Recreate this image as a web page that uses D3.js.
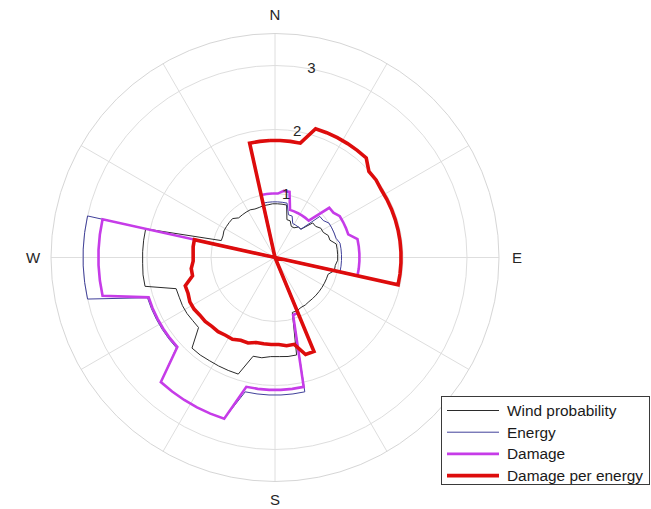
<!DOCTYPE html>
<html>
<head>
<meta charset="utf-8">
<script src="https://cdn.jsdelivr.net/npm/d3@7"></script>
<style>
  body { margin: 0; background: #fff; }
  svg { display: block; font-family: "Liberation Sans", Arial, sans-serif; }
</style>
</head>
<body>
<svg id="chart" width="651" height="509"></svg>
<script>
// Direction bins (degrees clockwise from north), 10-degree resolution
const directions = d3.range(0, 360, 10);

// Values per direction bin, in the order of `directions`
const windProbability = [
  0.84, 0.84, 0.62, 0.55, 0.60, 0.80, 0.85, 0.90, 0.98, 0.98, 0.95, 0.87,
  0.87, 0.87, 0.87, 0.88, 0.90, 1.56, 1.55, 1.58, 1.91, 1.91, 1.92, 1.62,
  1.63, 1.62, 2.08, 2.07, 2.07, 0.88, 0.90, 0.90, 0.84, 0.84, 0.82, 0.83
];
const energy = [
  0.87, 0.87, 0.70, 0.60, 0.60, 0.95, 1.00, 1.00, 1.04, 1.04, 1.04, 0,
  0, 0, 0, 0, 0.95, 2.15, 2.15, 2.15, 2.64, 2.64, 2.64, 2.09,
  2.09, 2.09, 3.00, 3.00, 3.00, 0, 0, 0, 0, 0, 0, 0.87
];
const damage = [
  1.00, 1.05, 0.78, 0.78, 0.78, 1.15, 1.20, 1.20, 1.32, 1.32, 1.32, 0,
  0, 0, 0, 0, 0.94, 2.07, 2.07, 2.07, 2.64, 2.64, 2.64, 2.07,
  2.07, 2.07, 2.76, 2.76, 2.76, 0, 0, 0, 0, 0, 0, 1.00
];
const damagePerEnergy = [
  1.83, 1.83, 2.11, 2.11, 2.11, 1.99, 1.97, 1.97, 1.97, 1.97, 1.97, 0,
  0, 0, 0, 0, 1.59, 1.39, 1.36, 1.36, 1.40, 1.44, 1.46, 1.48,
  1.50, 1.47, 1.32, 1.28, 1.29, 0, 0, 0, 0, 0, 0, 1.83
];

const radialTicks = [1, 2, 3];
const compassAngles = [0, 90, 180, 270];
const compassNames = ["N", "E", "S", "W"];
const seriesNames = ["Wind probability", "Energy", "Damage", "Damage per energy"];
const seriesValues = [windProbability, energy, damage, damagePerEnergy];
const seriesColors = ["#2b2b2b", "#40409a", "#c63ce8", "#dd0c0c"];
const seriesWidths = [1, 1, 2.6, 3.6];

const svg = d3.select("#chart");
const cx = 275, cy = 257.5;
const rMax = 3.5;

const r = d3.scaleLinear().domain([0, rMax]).range([0, 224]);
const ang = d3.scaleLinear().domain([0, 360]).range([0, 2 * Math.PI]);

const g = svg.append("g").attr("transform", `translate(${cx},${cy})`);

// Grid: spokes every 30 degrees and rings at the radial ticks
const grid = g.append("g").attr("fill", "none").attr("stroke", "#dedede").attr("stroke-width", 1);
d3.range(0, 360, 30).forEach(a => {
  const t = ang(a);
  grid.append("line")
    .attr("x1", 0).attr("y1", 0)
    .attr("x2", r(rMax) * Math.sin(t)).attr("y2", -r(rMax) * Math.cos(t));
});
radialTicks.forEach(v => grid.append("circle").attr("r", r(v)));
grid.append("circle").attr("r", r(rMax)).attr("stroke", "#d6d6d6");

// Each bin is a 5-degree plateau; neighbouring plateaus are joined by straight segments
function outline(values) {
  const pts = [];
  directions.forEach((d, i) => {
    pts.push([d - 2.5, values[i]]);
    pts.push([d + 2.5, values[i]]);
  });
  pts.push(pts[0]);
  return pts;
}
const radialLine = d3.lineRadial()
  .angle(p => ang(p[0]))
  .radius(p => r(p[1]))
  .curve(d3.curveLinear);

seriesValues.forEach((vals, i) => {
  g.append("path")
    .attr("d", radialLine(outline(vals)))
    .attr("fill", "none")
    .attr("stroke", seriesColors[i])
    .attr("stroke-width", seriesWidths[i])
    .attr("stroke-linejoin", "miter");
});

// Radial tick labels along the 10-degree direction
const labelAngle = ang(10);
g.selectAll("text.rtick").data(radialTicks).join("text")
  .attr("class", "rtick")
  .attr("x", d => r(d) * Math.sin(labelAngle) + (d === 3 ? 3 : 0))
  .attr("y", d => -r(d) * Math.cos(labelAngle) - 1)
  .attr("text-anchor", "middle")
  .attr("dominant-baseline", "central")
  .attr("font-size", 15)
  .attr("fill", "#262626")
  .text(d => d);

// Compass labels
compassAngles.forEach((a, i) => {
  const t = ang(a);
  const rr = r(rMax) + 18;
  g.append("text")
    .attr("x", rr * Math.sin(t))
    .attr("y", -rr * Math.cos(t) - (a === 0 ? 1 : 0))
    .attr("text-anchor", "middle")
    .attr("dominant-baseline", "central")
    .attr("font-size", 15)
    .attr("fill", "#262626")
    .text(compassNames[i]);
});

// Legend
const lg = svg.append("g").attr("transform", "translate(441,396)");
lg.append("rect").attr("x", 0.5).attr("y", 0.5).attr("width", 208).attr("height", 88)
  .attr("fill", "#fff").attr("stroke", "#3a3a3a").attr("stroke-width", 1);
seriesNames.forEach((name, i) => {
  const y = 14.5 + i * 21.7;
  lg.append("line").attr("x1", 6).attr("x2", 58).attr("y1", y).attr("y2", y)
    .attr("stroke", seriesColors[i]).attr("stroke-width", seriesWidths[i]);
  lg.append("text").attr("x", 66).attr("y", y).attr("dominant-baseline", "central")
    .attr("font-size", 15.4).attr("fill", "#1a1a1a").text(name);
});
</script>
</body>
</html>
